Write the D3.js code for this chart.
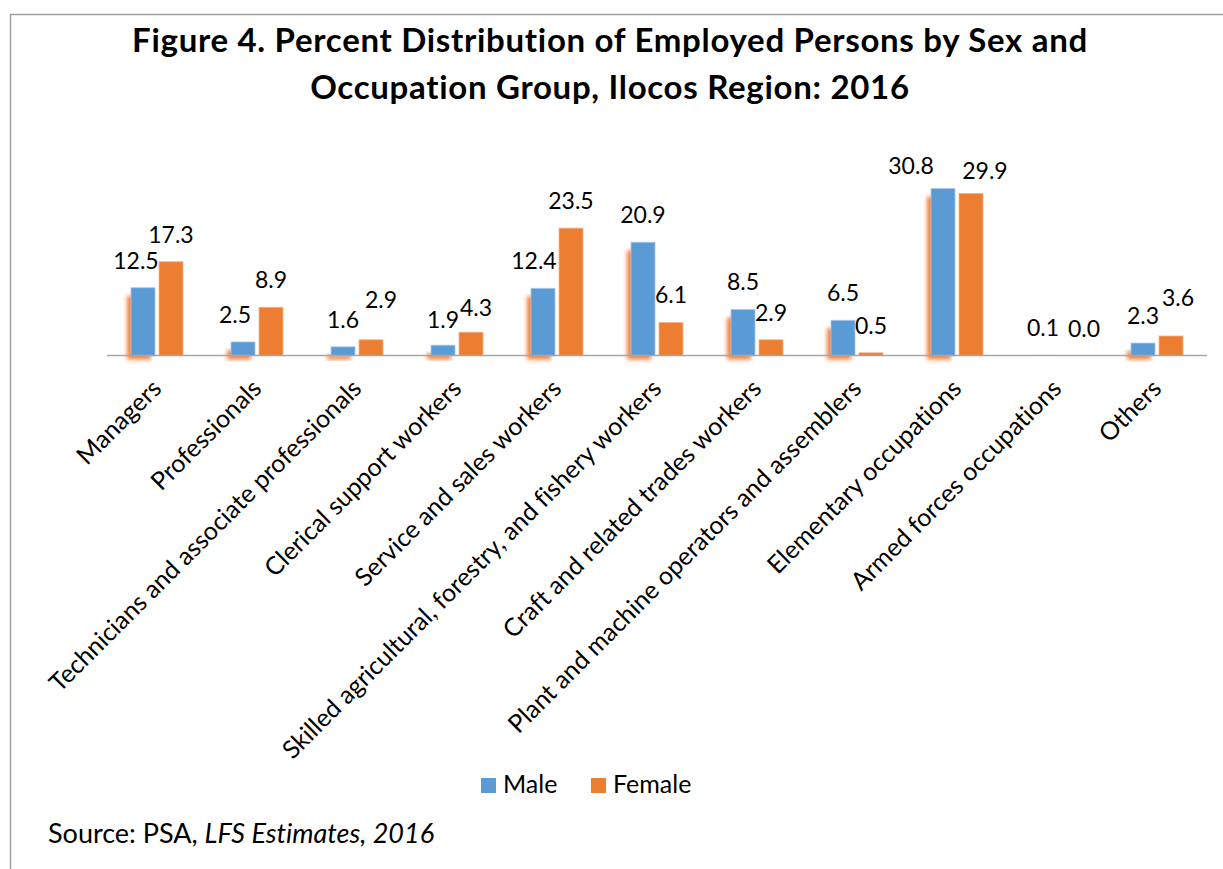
<!DOCTYPE html>
<html>
<head>
<meta charset="utf-8">
<title>Figure 4. Percent Distribution of Employed Persons by Sex and Occupation Group</title>
<style>
  body { margin: 0; background: #fff; }
  svg text { font-family: Lato, "Open Sans", sans-serif; fill: #000; font-variant-ligatures: none; }
</style>
</head>
<body>
<svg width="1223" height="869"></svg>
<script src="https://d3js.org/d3.v7.min.js"></script>
<script>

// chart values
var categories = ["Managers", "Professionals", "Technicians and associate professionals",
    "Clerical support workers", "Service and sales workers",
    "Skilled agricultural, forestry, and fishery workers", "Craft and related trades workers",
    "Plant and machine operators and assemblers", "Elementary occupations",
    "Armed forces occupations", "Others"];
var series = ["Male", "Female"];
var male = [12.5, 2.5, 1.6, 1.9, 12.4, 20.9, 8.5, 6.5, 30.8, 0.1, 2.3];
var female = [17.3, 8.9, 2.9, 4.3, 23.5, 6.1, 2.9, 0.5, 29.9, 0.0, 3.6];
var titleLines = ["Figure 4. Percent Distribution of Employed Persons by Sex and",
    "Occupation Group, Ilocos Region: 2016"];

var svg = d3.select("svg"),
    width = +svg.attr("width"),
    height = +svg.attr("height");

var colors = { Male: "#5b9bd5", Female: "#ed7d31" };
var edge = { Male: "#a9c8ea", Female: "#f5b38a" };

var rows = categories.map(function(c, i) {
  return { cat: c, Male: male[i], Female: female[i] };
});

// chart frame (runs past the right and bottom edges like the source picture)
svg.append("rect")
    .attr("x", 10.5).attr("y", 14.5)
    .attr("width", 1400).attr("height", 1000)
    .attr("fill", "none")
    .attr("stroke", "#a0a0a0")
    .attr("stroke-width", 1.5);

var title = svg.append("text")
    .attr("text-anchor", "middle")
    .attr("font-weight", "bold")
    .attr("font-size", 33)
    .attr("letter-spacing", 0.7);
title.selectAll("tspan")
  .data(titleLines)
  .enter().append("tspan")
    .attr("x", 610)
    .attr("y", function(d, i) { return 52 + i * 47; })
    .text(function(d) { return d; });

var x = d3.scaleBand()
    .domain(categories)
    .range([107, 1207]);

var xs = d3.scaleBand()
    .domain(series)
    .range([24, 76])
    .paddingInner(4 / 28);

var y = d3.scaleLinear()
    .domain([0, 35])
    .range([355.5, 165.8]);

var defs = svg.append("defs");
defs.append("filter")
    .attr("id", "soft")
    .attr("x", "-50%").attr("y", "-20%")
    .attr("width", "200%").attr("height", "140%")
  .append("feGaussianBlur")
    .attr("stdDeviation", 2);

var groups = svg.append("g").selectAll("g")
  .data(rows)
  .enter().append("g")
    .attr("transform", function(d) { return "translate(" + x(d.cat) + ",0)"; });

// orange glow behind the male bars
groups.append("rect")
    .attr("x", xs("Male") - 4)
    .attr("y", function(d) { return y(d.Male) + 8; })
    .attr("width", xs.bandwidth())
    .attr("height", function(d) { return Math.max(0, y(0) - y(d.Male) - 4); })
    .attr("fill", "#ed6a1a")
    .attr("opacity", function(d) { return d.Male > 0.5 ? 0.85 : 0; })
    .attr("filter", "url(#soft)");

// axis line
svg.append("line")
    .attr("x1", x.range()[0]).attr("x2", x.range()[1])
    .attr("y1", y(0)).attr("y2", y(0))
    .attr("stroke", "#a6a6a6")
    .attr("stroke-width", 1.5);

// label shifts where the labels were moved apart in the source
var nudge = {
  "Managers": { Male: [-7, 0] },
  "Professionals": { Male: [-8, 0] },
  "Technicians and associate professionals": { Female: [10, -13] },
  "Clerical support workers": { Male: [0, 2], Female: [5, 3] },
  "Service and sales workers": { Male: [-9, 0] },
  "Elementary occupations": { Male: [-32, 4.5], Female: [14, 4.5] },
  "Armed forces occupations": { Female: [13, 0] },
  "Others": { Female: [7, -11] }
};
function shift(d, s, k) {
  var n = nudge[d.cat];
  return n && n[s] ? n[s][k] : 0;
}

series.forEach(function(s) {
  groups.append("rect")
      .attr("x", xs(s))
      .attr("y", function(d) { return y(d[s]); })
      .attr("width", xs.bandwidth())
      .attr("height", function(d) { return y(0) - y(d[s]); })
      .attr("fill", colors[s])
      .attr("stroke", function(d) { return d[s] > 0.3 ? edge[s] : "none"; })
      .attr("stroke-width", 0.8);

  groups.append("text")
      .attr("x", function(d) { return xs(s) + xs.bandwidth() / 2 + shift(d, s, 0); })
      .attr("y", function(d) { return y(d[s]) - 19 + shift(d, s, 1); })
      .attr("text-anchor", "middle")
      .attr("font-size", 23)
      .text(function(d) { return d[s].toFixed(1); });
});

// rotated category labels
svg.append("g").selectAll("text")
  .data(categories)
  .enter().append("text")
    .attr("transform", function(d) {
      return "translate(" + (x(d) + x.bandwidth() / 2 + 6) + ",390) rotate(-45)";
    })
    .attr("text-anchor", "end")
    .attr("font-size", 25)
    .text(function(d) { return d; });

// legend
var legend = svg.append("g")
    .attr("transform", "translate(481,778)");
var item = legend.selectAll("g")
  .data(series)
  .enter().append("g")
    .attr("transform", function(d, i) { return "translate(" + (i * 110) + ",0)"; });
item.append("rect")
    .attr("width", 15).attr("height", 15)
    .attr("fill", function(d) { return colors[d]; });
item.append("text")
    .attr("x", 22).attr("y", 15)
    .attr("font-size", 25)
    .text(function(d) { return d; });

// source note
var src = svg.append("text")
    .attr("x", 48).attr("y", 843)
    .attr("font-size", 27);
src.append("tspan").text("Source: PSA, ");
src.append("tspan").attr("font-style", "italic").text("LFS Estimates, 2016");

</script>
</body>
</html>
